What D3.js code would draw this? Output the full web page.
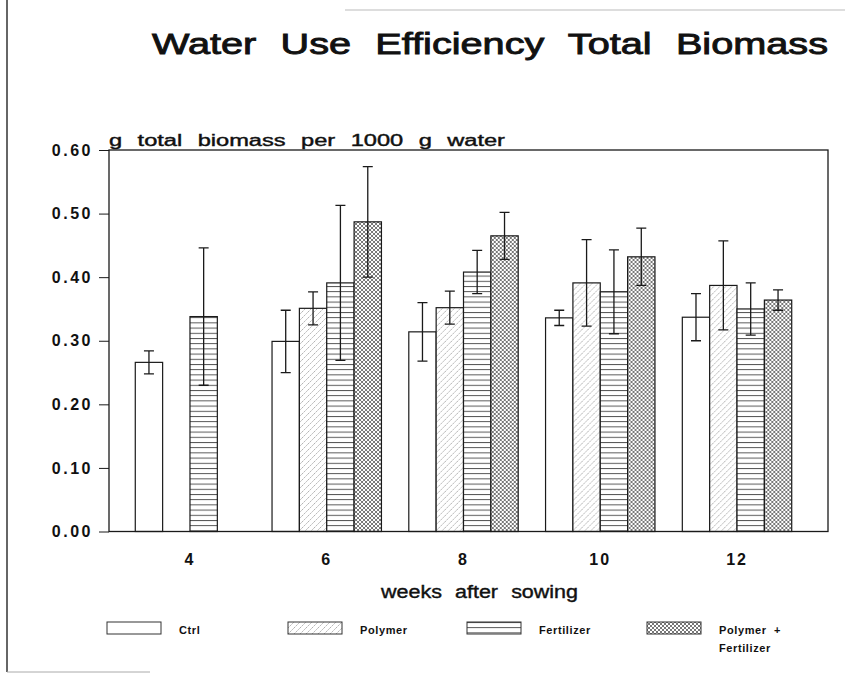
<!DOCTYPE html>
<html>
<head>
<meta charset="utf-8">
<script src="https://cdn.jsdelivr.net/npm/d3@7/dist/d3.min.js"></script>
<style>
  body { margin: 0; background: #fff; }
  text { font-family: "Liberation Sans", Arial, sans-serif; fill: #111; }
</style>
</head>
<body>
<div id="chart"></div>
<script>
// data
var weeks = [4, 6, 8, 10, 12];
var series = ['Ctrl', 'Polymer', 'Fertilizer', 'Polymer + Fertilizer'];
// null = no bar for that week
var ctrl       = [0.266, 0.299, 0.314, 0.336, 0.337];
var polymer    = [null,  0.351, 0.352, 0.391, 0.387];
var fertilizer = [0.338, 0.391, 0.408, 0.377, 0.350];
var polyFert   = [null,  0.487, 0.465, 0.432, 0.364];
// half length of the error bars
var ctrlErr       = [0.018, 0.049, 0.046, 0.012, 0.037];
var polymerErr    = [null,  0.026, 0.026, 0.068, 0.070];
var fertilizerErr = [0.108, 0.122, 0.034, 0.066, 0.041];
var polyFertErr   = [null,  0.087, 0.037, 0.045, 0.016];
var yTicks = [0, 0.1, 0.2, 0.3, 0.4, 0.5, 0.6];

var values = [ctrl, polymer, fertilizer, polyFert];
var errors = [ctrlErr, polymerErr, fertilizerErr, polyFertErr];
var fills = ['#fff', 'url(#hatchPoly)', 'url(#hatchFert)', 'url(#hatchCross)'];

var width = 860, height = 675;
var plot = {left: 109, right: 828, top: 150, bottom: 531.5};
var ink = '#1a1a1a';

var svg = d3.select('#chart').append('svg')
  .attr('width', width)
  .attr('height', height);

// fill patterns
var defs = svg.append('defs');
var p1 = defs.append('pattern').attr('id', 'hatchPoly')
  .attr('patternUnits', 'userSpaceOnUse').attr('width', 6).attr('height', 6);
p1.append('rect').attr('width', 6).attr('height', 6).attr('fill', '#fff');
p1.append('path').attr('d', 'M0,6 L6,0 M-1,1 L1,-1 M5,7 L7,5')
  .attr('stroke', '#9a9a9a').attr('stroke-width', 0.8).attr('stroke-dasharray', '2,1');

var p2 = defs.append('pattern').attr('id', 'hatchFert')
  .attr('patternUnits', 'userSpaceOnUse').attr('width', 8).attr('height', 5.2);
p2.append('rect').attr('width', 8).attr('height', 5.2).attr('fill', '#fff');
p2.append('line').attr('x1', 0).attr('x2', 8).attr('y1', 0.5).attr('y2', 0.5)
  .attr('stroke', '#444').attr('stroke-width', 0.9);

var p3 = defs.append('pattern').attr('id', 'hatchCross')
  .attr('patternUnits', 'userSpaceOnUse').attr('width', 4).attr('height', 4);
p3.append('rect').attr('width', 4).attr('height', 4).attr('fill', '#fff');
p3.append('path').attr('d', 'M0,4 L4,0 M0,0 L4,4')
  .attr('stroke', '#555').attr('stroke-width', 0.8);

// scales
var x0 = d3.scaleBand()
  .domain(weeks)
  .range([121.6, 805.4])
  .paddingInner(0.2)
  .paddingOuter(0.1);

var x1 = d3.scaleBand()
  .domain(series)
  .range([0, x0.bandwidth()]);

var y = d3.scaleLinear()
  .domain([0, 0.6])
  .range([plot.bottom, plot.top]);

// page border bits from the scan
svg.append('line').attr('x1', 7).attr('x2', 7).attr('y1', 0).attr('y2', 672)
  .attr('stroke', '#333').attr('stroke-width', 1.5);
svg.append('line').attr('x1', 7).attr('x2', 150).attr('y1', 672).attr('y2', 672)
  .attr('stroke', '#aaa').attr('stroke-width', 1);
svg.append('line').attr('x1', 345).attr('x2', 845).attr('y1', 10).attr('y2', 10)
  .attr('stroke', '#bbb').attr('stroke-width', 1);

// title (wide lettering, stretched to the scan's width)
svg.append('text')
  .attr('x', 152).attr('y', 54)
  .attr('textLength', 676).attr('lengthAdjust', 'spacingAndGlyphs')
  .style('font-size', '30px')
  .style('word-spacing', '10px')
  .style('stroke', '#111').style('stroke-width', 0.9)
  .text('Water Use Efficiency Total Biomass');

// bars
var groups = svg.append('g').selectAll('g')
  .data(weeks)
  .enter().append('g')
  .attr('transform', function(d) { return 'translate(' + x0(d) + ',0)'; });

groups.each(function(w, wi) {
  var g = d3.select(this);
  series.forEach(function(s, si) {
    var v = values[si][wi];
    if (v === null) return;
    g.append('rect')
      .attr('x', x1(s))
      .attr('y', y(v))
      .attr('width', x1.bandwidth())
      .attr('height', y(0) - y(v))
      .attr('fill', fills[si])
      .attr('stroke', ink)
      .attr('stroke-width', 1.2);
  });
});

// error bars drawn on top
groups.each(function(w, wi) {
  var g = d3.select(this);
  series.forEach(function(s, si) {
    var v = values[si][wi];
    if (v === null) return;
    var e = errors[si][wi];
    var cx = x1(s) + x1.bandwidth() / 2;
    var path = 'M' + cx + ',' + y(v + e) + 'V' + y(v - e) +
      'M' + (cx - 5) + ',' + y(v + e) + 'H' + (cx + 5) +
      'M' + (cx - 5) + ',' + y(v - e) + 'H' + (cx + 5);
    g.append('path').attr('d', path)
      .attr('fill', 'none').attr('stroke', ink).attr('stroke-width', 1.3);
  });
});

// plot frame
svg.append('rect')
  .attr('x', plot.left).attr('y', plot.top)
  .attr('width', plot.right - plot.left).attr('height', plot.bottom - plot.top)
  .attr('fill', 'none').attr('stroke', ink).attr('stroke-width', 1.3);

// y axis
var yAxis = svg.append('g')
  .attr('transform', 'translate(' + plot.left + ',0)')
  .call(d3.axisLeft(y).tickValues(yTicks).tickSize(10).tickPadding(6)
    .tickFormat(d3.format('.2f')));
yAxis.select('.domain').remove();
yAxis.selectAll('line').attr('stroke', ink).attr('stroke-width', 1);
yAxis.selectAll('text')
  .style('font-size', '16px').style('font-weight', 'bold')
  .style('letter-spacing', '2.5px')
  .style('font-family', '"Liberation Sans", Arial, sans-serif')
  .attr('fill', '#111');

// x axis labels (no ticks)
var xAxis = svg.append('g')
  .attr('transform', 'translate(0,' + plot.bottom + ')')
  .call(d3.axisBottom(x0).tickSize(0).tickPadding(22));
xAxis.select('.domain').remove();
xAxis.selectAll('text')
  .style('font-size', '16px').style('font-weight', 'bold')
  .style('letter-spacing', '2px')
  .style('font-family', '"Liberation Sans", Arial, sans-serif')
  .attr('fill', '#111');

// axis titles
svg.append('text')
  .attr('x', 109).attr('y', 146)
  .attr('textLength', 396).attr('lengthAdjust', 'spacingAndGlyphs')
  .style('font-size', '16px')
  .style('word-spacing', '6px')
  .style('stroke', '#111').style('stroke-width', 0.4)
  .text('g total biomass per 1000 g water');

svg.append('text')
  .attr('x', 381).attr('y', 598)
  .attr('textLength', 197).attr('lengthAdjust', 'spacingAndGlyphs')
  .style('font-size', '18px')
  .style('word-spacing', '6px')
  .style('stroke', '#111').style('stroke-width', 0.4)
  .text('weeks after sowing');

// legend
var legendX = [107, 288, 467, 647];
var legend = svg.append('g').selectAll('g')
  .data(series)
  .enter().append('g')
  .attr('transform', function(d, i) { return 'translate(' + legendX[i] + ',622)'; });

legend.append('rect')
  .attr('width', 54).attr('height', 12)
  .attr('fill', function(d, i) { return fills[i]; })
  .attr('stroke', '#333').attr('stroke-width', 1);

legend.append('text')
  .attr('x', 72).attr('y', 12)
  .style('font-size', '11px').style('font-weight', 'bold')
  .style('letter-spacing', '0.6px')
  .each(function(d) {
    var t = d3.select(this);
    var parts = d === 'Polymer + Fertilizer' ? ['Polymer  +', 'Fertilizer'] : [d];
    parts.forEach(function(p, k) {
      t.append('tspan').attr('x', 72).attr('dy', k === 0 ? 0 : 18)
        .attr('xml:space', 'preserve').text(p);
    });
  });
</script>
</body>
</html>
